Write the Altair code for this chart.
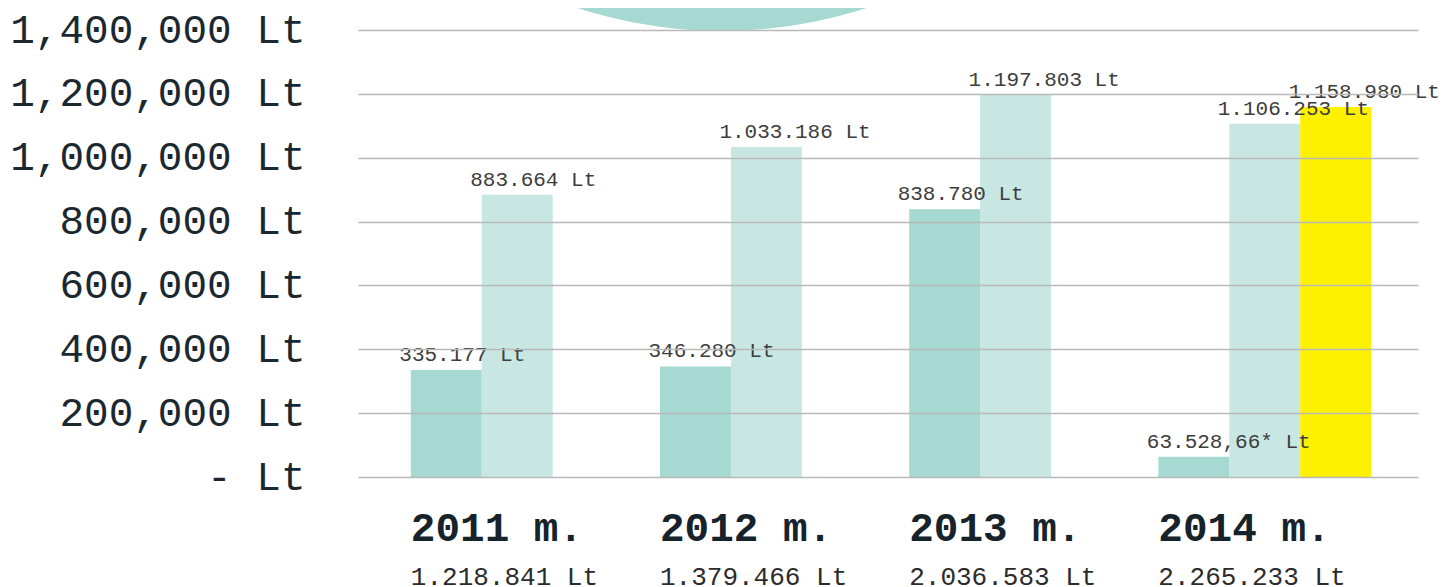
import altair as alt
import pandas as pd

years = ["2011 m.", "2012 m.", "2013 m.", "2014 m."]
totals = ["1.218.841 Lt", "1.379.466 Lt", "2.036.583 Lt", "2.265.233 Lt"]

series_a = [335177, 346280, 838780, 63528.66]
series_a_labels = ["335.177 Lt", "346.280 Lt", "838.780 Lt", "63.528,66* Lt"]
series_b = [883664, 1033186, 1197803, 1106253]
series_b_labels = ["883.664 Lt", "1.033.186 Lt", "1.197.803 Lt", "1.106.253 Lt"]
series_c_years = ["2014 m."]
series_c = [1158980]
series_c_labels = ["1.158.980 Lt"]

y_ticks = [0, 200000, 400000, 600000, 800000, 1000000, 1200000, 1400000]
series_keys = ["a", "b", "c"]
series_colors = ["#a6d9d1", "#c8e7e2", "#fff000"]

rows = []
for y, v, l in zip(years, series_a, series_a_labels):
    rows.append({"year": y, "series": "a", "value": v, "label": l})
for y, v, l in zip(years, series_b, series_b_labels):
    rows.append({"year": y, "series": "b", "value": v, "label": l})
for y, v, l in zip(series_c_years, series_c, series_c_labels):
    rows.append({"year": y, "series": "c", "value": v, "label": l})
df = pd.DataFrame(rows)
df_years = pd.DataFrame({"year": years, "total": totals})

xscale = alt.Scale(domain=years, paddingInner=0.146, paddingOuter=0.2, align=0.53)
offscale = alt.Scale(domain=series_keys, paddingInner=0, paddingOuter=0)
yscale = alt.Scale(domain=[0, 1400000], nice=False)

yaxis = alt.Axis(
    values=y_ticks,
    labelExpr="datum.value == 0 ? '- Lt' : format(datum.value, ',') + ' Lt'",
    grid=True, gridColor="#b9b9b9", gridWidth=1.5,
    domain=False, ticks=False,
    labelFont="Liberation Mono", labelFontSize=41, labelColor="#1b2830",
    labelPadding=53, labelLimit=0, zindex=1, title=None,
)

# decorative circle at the top (partly above the page)
circle = alt.Chart(pd.DataFrame({"k": [0]})).mark_arc(
    radius=465, theta=0, theta2=6.2832, color="#a6d9d1", opacity=1
).encode(x=alt.value(364), y=alt.value(-464))

base = alt.Chart(df)
bars = base.mark_bar(opacity=1).encode(
    x=alt.X("year:N", scale=xscale, axis=None, sort=years),
    xOffset=alt.XOffset("series:N", scale=offscale),
    y=alt.Y("value:Q", scale=yscale, axis=yaxis),
    color=alt.Color("series:N", scale=alt.Scale(domain=series_keys, range=series_colors), legend=None),
)

labels = base.mark_text(
    align="left", baseline="alphabetic", dx=-47, dy=-9,
    font="Liberation Mono", fontSize=21, color="#3d3d3d",
).encode(
    x=alt.X("year:N", scale=xscale, axis=None, sort=years),
    xOffset=alt.XOffset("series:N", scale=offscale),
    y=alt.Y("value:Q", scale=yscale),
    text="label:N",
)

year_text = alt.Chart(df_years).mark_text(
    align="left", baseline="alphabetic", dy=64,
    font="Liberation Mono", fontSize=41, fontWeight="bold", color="#17232b",
).encode(
    x=alt.X("year:N", scale=xscale, axis=None, sort=years, bandPosition=0),
    y=alt.datum(0),
    text="year:N",
)

total_text = alt.Chart(df_years).mark_text(
    align="left", baseline="alphabetic", dy=108,
    font="Liberation Mono", fontSize=26, color="#2b2b2b",
).encode(
    x=alt.X("year:N", scale=xscale, axis=None, sort=years, bandPosition=0),
    y=alt.datum(0),
    text="total:N",
)

chart = alt.layer(circle, bars, labels, year_text, total_text).properties(
    width=1060, height=447,
    padding={"left": 350, "top": 22, "right": 28, "bottom": 112},
    autosize=alt.AutoSizeParams(type="none"),
).configure_view(stroke=None)

chart.save("out.html", embed_options={"renderer": "svg", "actions": False})
